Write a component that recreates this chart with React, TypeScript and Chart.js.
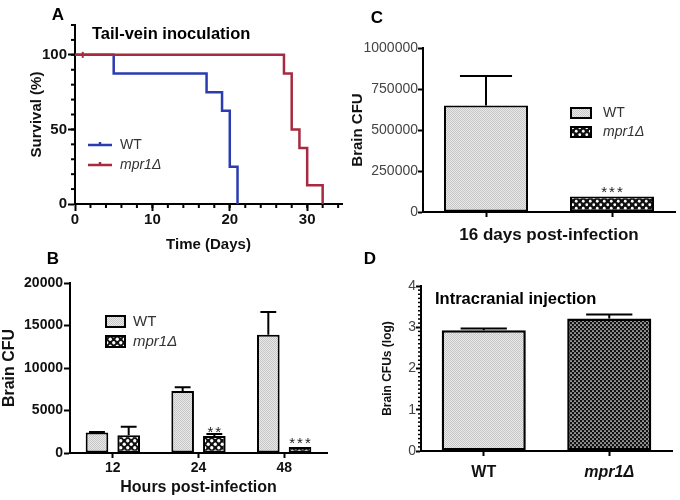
import React, { useEffect, useRef } from 'react';
import { Chart, registerables } from 'chart.js';

Chart.register(...registerables);

const FONT = '"Liberation Sans", Arial, Helvetica, sans-serif';
Chart.defaults.font.family = FONT;

// ---------- Panel A: survival ----------
const survivalWTDays = [0, 5, 17, 19, 20, 21];
const survivalWTPct = [100, 87.5, 75, 62.5, 25, 0];
const survivalMutDays = [0, 27, 28, 29, 30, 32];
const survivalMutPct = [100, 87.5, 50, 37.5, 12.5, 0];
const censoredMutDays = [1];
const censoredMutPct = [100];
const survivalXTicks = [0, 10, 20, 30];
const survivalYTicks = [0, 50, 100];

// ---------- Panel B: brain CFU over time ----------
const hoursCategories = ['12', '24', '48'];
const brainCfuWT = [2400, 7300, 13900];
const brainCfuWTErr = [60, 450, 2700];
const brainCfuMut = [2100, 2000, 700];
const brainCfuMutErr = [1000, 250, 0];
const starsB = ['', '**', '***'];
const ticksB = [0, 5000, 10000, 15000, 20000];

// ---------- Panel C: 16 days ----------
const genotypes = ['WT', 'mpr1Δ'];
const day16Cfu = [650000, 95000];
const day16Err = [180000, 0];
const starsC = ['', '***'];
const ticksC = [0, 250000, 500000, 750000, 1000000];

// ---------- Panel D: intracranial ----------
const intracranialLog = [2.93, 3.21];
const intracranialErr = [0.04, 0.1];
const ticksD = [0, 1, 2, 3, 4];

const BLUE = '#2a3cb0';
const RED = '#a82a40';

type Box = { cx: number; cy: number; w: number; h: number; L: number; R: number; T: number; B: number };

const boxA: Box = { cx: 0, cy: 0, w: 350, h: 254, L: 75, R: 342, T: 25, B: 204 };
const boxB: Box = { cx: 0, cy: 250, w: 340, h: 250, L: 70, R: 327, T: 283, B: 453 };
const boxC: Box = { cx: 340, cy: 0, w: 340, h: 250, L: 423, R: 675, T: 48, B: 212 };
const boxD: Box = { cx: 340, cy: 250, w: 340, h: 250, L: 421, R: 672, T: 286, B: 451 };

function makeStipple(ctx: CanvasRenderingContext2D) {
  const t = document.createElement('canvas');
  t.width = 2; t.height = 2;
  const c = t.getContext('2d')!;
  c.fillStyle = '#e9e9e9'; c.fillRect(0, 0, 2, 2);
  c.fillStyle = '#c6c6c6'; c.fillRect(0, 0, 1, 1); c.fillRect(1, 1, 1, 1);
  return ctx.createPattern(t, 'repeat');
}
function makeDots(ctx: CanvasRenderingContext2D, size: number, r: number) {
  const t = document.createElement('canvas');
  t.width = size; t.height = size;
  const c = t.getContext('2d')!;
  c.fillStyle = '#111'; c.fillRect(0, 0, size, size);
  c.fillStyle = '#fff';
  [[size / 4, size / 4], [(3 * size) / 4, (3 * size) / 4]].forEach(([x, y]) => {
    c.beginPath(); c.arc(x, y, r, 0, Math.PI * 2); c.fill();
  });
  return ctx.createPattern(t, 'repeat');
}

const layoutFor = (b: Box) => ({ padding: { left: 0, top: b.T - b.cy, right: b.cx + b.w - b.R, bottom: 0 } });
const gridCfg = (tl: number) => ({ display: true, drawOnChartArea: false, drawTicks: true, tickLength: tl, tickColor: '#000', tickWidth: 2, offset: false });
const borderCfg = { display: true, color: '#000', width: 2 };
const fixTicks = (vals: number[]) => (s: any) => { s.ticks = vals.map((v) => ({ value: v })); };

type TextItem = { t: string; x: number; y: number; font: string; align?: CanvasTextAlign; base?: CanvasTextBaseline; color?: string };
function textPlugin(b: Box, items: TextItem[]) {
  return {
    id: 'texts',
    afterDraw(chart: any) {
      const ctx = chart.ctx;
      ctx.save();
      items.forEach((it) => {
        ctx.font = it.font;
        ctx.fillStyle = it.color || '#000';
        ctx.textAlign = it.align || 'center';
        ctx.textBaseline = it.base || 'middle';
        ctx.fillText(it.t, it.x - b.cx, it.y - b.cy);
      });
      ctx.restore();
    },
  };
}
function minorPlugin(axis: 'x' | 'y', values: number[], len: number, width: number) {
  return {
    id: 'minor' + axis,
    afterDraw(chart: any) {
      const ctx = chart.ctx;
      const s = chart.scales[axis];
      const a = chart.chartArea;
      ctx.save();
      ctx.strokeStyle = '#000';
      ctx.lineWidth = width;
      values.forEach((v) => {
        const p = s.getPixelForValue(v);
        ctx.beginPath();
        if (axis === 'y') { ctx.moveTo(a.left - len, p); ctx.lineTo(a.left, p); }
        else { ctx.moveTo(p, a.bottom); ctx.lineTo(p, a.bottom + len); }
        ctx.stroke();
      });
      ctx.restore();
    },
  };
}
function errorPlugin(ds: number, values: number[], errs: number[], capFrac: number) {
  return {
    id: 'err' + ds,
    afterDatasetsDraw(chart: any) {
      const ctx = chart.ctx;
      const meta = chart.getDatasetMeta(ds);
      const ys = chart.scales.y;
      ctx.save();
      ctx.strokeStyle = '#000';
      ctx.lineWidth = 2;
      meta.data.forEach((bar: any, i: number) => {
        if (!errs[i]) return;
        const top = ys.getPixelForValue(values[i] + errs[i]);
        const cap = bar.width * capFrac;
        ctx.beginPath();
        ctx.moveTo(bar.x, bar.y);
        ctx.lineTo(bar.x, top);
        ctx.moveTo(bar.x - cap / 2, top);
        ctx.lineTo(bar.x + cap / 2, top);
        ctx.stroke();
      });
      ctx.restore();
    },
  };
}
function starsPlugin(ds: number, stars: string[], font: string) {
  return {
    id: 'stars' + ds,
    afterDatasetsDraw(chart: any) {
      const ctx = chart.ctx;
      const meta = chart.getDatasetMeta(ds);
      ctx.save();
      ctx.font = font;
      ctx.fillStyle = '#222';
      ctx.textAlign = 'center';
      ctx.textBaseline = 'alphabetic';
      (ctx as any).letterSpacing = '2px';
      meta.data.forEach((bar: any, i: number) => {
        if (stars[i]) ctx.fillText(stars[i], bar.x + 1, bar.y + 1);
      });
      ctx.restore();
    },
  };
}
type LegItem = { label: string; fill: any; italic?: boolean };
function boxLegendPlugin(b: Box, items: LegItem[], o: { x: number; y: number; bw: number; bh: number; gap: number; tx: number; size: number }) {
  return {
    id: 'boxLegend',
    afterDraw(chart: any) {
      const ctx = chart.ctx;
      ctx.save();
      items.forEach((it, i) => {
        const x = o.x - b.cx;
        const y = o.y + i * o.gap - b.cy;
        ctx.fillStyle = it.fill;
        ctx.fillRect(x, y, o.bw, o.bh);
        ctx.strokeStyle = '#000';
        ctx.lineWidth = 2;
        ctx.strokeRect(x + 1, y + 1, o.bw - 2, o.bh - 2);
        ctx.fillStyle = '#333';
        ctx.font = `${it.italic ? 'italic ' : ''}${o.size}px ${FONT}`;
        ctx.textAlign = 'left';
        ctx.textBaseline = 'middle';
        ctx.fillText(it.label, o.tx - b.cx, y + o.bh / 2);
      });
      ctx.restore();
    },
  };
}
function lineLegendPlugin(b: Box, items: { label: string; color: string; italic?: boolean }[], o: { x1: number; x2: number; y: number; gap: number; tx: number; size: number }) {
  return {
    id: 'lineLegend',
    afterDraw(chart: any) {
      const ctx = chart.ctx;
      ctx.save();
      items.forEach((it, i) => {
        const y = o.y + i * o.gap - b.cy;
        ctx.strokeStyle = it.color;
        ctx.lineWidth = 2.5;
        ctx.beginPath();
        ctx.moveTo(o.x1 - b.cx, y);
        ctx.lineTo(o.x2 - b.cx, y);
        const mx = (o.x1 + o.x2) / 2 - b.cx;
        ctx.moveTo(mx, y - 3);
        ctx.lineTo(mx, y);
        ctx.stroke();
        ctx.fillStyle = '#333';
        ctx.font = `${it.italic ? 'italic ' : ''}${o.size}px ${FONT}`;
        ctx.textAlign = 'left';
        ctx.textBaseline = 'middle';
        ctx.fillText(it.label, o.tx - b.cx, y);
      });
      ctx.restore();
    },
  };
}

const range = (from: number, to: number, step: number) => {
  const out: number[] = [];
  for (let v = from; v <= to + 1e-9; v += step) out.push(Math.round(v * 1000) / 1000);
  return out;
};

function configA(ctx: CanvasRenderingContext2D) {
  const b = boxA;
  return {
    type: 'line',
    data: {
      datasets: [
        { label: 'WT', data: survivalWTDays.map((d, i) => ({ x: d, y: survivalWTPct[i] })), borderColor: BLUE, borderWidth: 2.5, stepped: 'before', pointRadius: 0, fill: false, order: 1 },
        { label: 'mpr1Δ', data: survivalMutDays.map((d, i) => ({ x: d, y: survivalMutPct[i] })), borderColor: RED, borderWidth: 2.5, stepped: 'before', pointRadius: 0, fill: false, order: 0 },
        { label: 'mpr1Δ censored', data: censoredMutDays.map((d, i) => ({ x: d, y: censoredMutPct[i] })), showLine: false, pointStyle: 'line', rotation: 90, pointRadius: 3, borderColor: RED, borderWidth: 2, order: 0 },
      ],
    },
    options: {
      responsive: false, animation: false, events: [],
      layout: layoutFor(b),
      plugins: { legend: { display: false }, tooltip: { enabled: false } },
      scales: {
        x: {
          type: 'linear', min: 0, max: 34.5,
          afterBuildTicks: fixTicks(survivalXTicks),
          afterFit: (s: any) => { s.height = b.cy + b.h - b.B; },
          grid: gridCfg(7), border: borderCfg,
          ticks: { color: '#111', font: { size: 15, weight: 'bold' }, padding: 0, maxRotation: 0, callback: (v: any) => String(v) },
          title: { display: true, text: 'Time (Days)', color: '#111', font: { size: 15, weight: 'bold' }, padding: { top: 0, bottom: 0 } },
        },
        y: {
          type: 'linear', min: 0, max: 120,
          afterBuildTicks: fixTicks(survivalYTicks),
          afterFit: (s: any) => { s.width = b.L - b.cx; },
          grid: gridCfg(7), border: borderCfg,
          ticks: { color: '#111', font: { size: 15, weight: 'bold' }, padding: 1, callback: (v: any) => String(v) },
          title: { display: true, text: 'Survival (%)', color: '#111', font: { size: 15, weight: 'bold' }, padding: { top: 28, bottom: 0 } },
        },
      },
    },
    plugins: [
      minorPlugin('x', range(2, 34, 2), 4, 2),
      minorPlugin('y', range(10, 120, 10), 4, 2),
      lineLegendPlugin(b, [{ label: 'WT', color: BLUE }, { label: 'mpr1Δ', color: RED, italic: true }], { x1: 88, x2: 112, y: 145, gap: 20, tx: 120, size: 14 }),
      textPlugin(b, [
        { t: 'A', x: 58, y: 15, font: `bold 17px ${FONT}` },
        { t: 'Tail-vein inoculation', x: 92, y: 39, font: `bold 16.5px ${FONT}`, align: 'left', base: 'alphabetic' },
      ]),
    ],
  };
}

function configB(ctx: CanvasRenderingContext2D) {
  const b = boxB;
  const wt = makeStipple(ctx);
  const mut = makeDots(ctx, 7, 1.65);
  return {
    type: 'bar',
    data: {
      labels: hoursCategories,
      datasets: [
        { label: 'WT', data: brainCfuWT, backgroundColor: wt, borderColor: '#000', borderWidth: 2, borderSkipped: false, categoryPercentage: 0.74, barPercentage: 0.714 },
        { label: 'mpr1Δ', data: brainCfuMut, backgroundColor: mut, borderColor: '#000', borderWidth: 2, borderSkipped: false, categoryPercentage: 0.74, barPercentage: 0.714 },
      ],
    },
    options: {
      responsive: false, animation: false, events: [],
      layout: layoutFor(b),
      plugins: { legend: { display: false }, tooltip: { enabled: false } },
      scales: {
        x: {
          type: 'category', offset: true,
          afterFit: (s: any) => { s.height = b.cy + b.h - b.B; },
          grid: gridCfg(5), border: borderCfg,
          ticks: { color: '#111', font: { size: 14, weight: 'bold' }, padding: 2, maxRotation: 0, autoSkip: false },
          title: { display: true, text: 'Hours post-infection', color: '#111', font: { size: 16, weight: 'bold' }, padding: { top: 0, bottom: 3 } },
        },
        y: {
          type: 'linear', min: 0, max: 20000,
          afterBuildTicks: fixTicks(ticksB),
          afterFit: (s: any) => { s.width = b.L - b.cx; },
          grid: gridCfg(6), border: borderCfg,
          ticks: { color: '#111', font: { size: 14, weight: 'bold' }, padding: 1, callback: (v: any) => String(v) },
          title: { display: true, text: 'Brain CFU', color: '#111', font: { size: 16, weight: 'bold' }, padding: { top: 0, bottom: 0 } },
        },
      },
    },
    plugins: [
      errorPlugin(0, brainCfuWT, brainCfuWTErr, 0.7),
      errorPlugin(1, brainCfuMut, brainCfuMutErr, 0.7),
      starsPlugin(1, starsB, `15px ${FONT}`),
      boxLegendPlugin(b, [{ label: 'WT', fill: wt }, { label: 'mpr1Δ', fill: mut, italic: true }], { x: 105, y: 315, bw: 21, bh: 13, gap: 20, tx: 133, size: 15 }),
      textPlugin(b, [{ t: 'B', x: 53, y: 259, font: `bold 17px ${FONT}` }]),
    ],
  };
}

function configC(ctx: CanvasRenderingContext2D) {
  const b = boxC;
  const wt = makeStipple(ctx);
  const mut = makeDots(ctx, 7, 1.4);
  return {
    type: 'bar',
    data: {
      labels: genotypes,
      datasets: [
        { label: 'Brain CFU', data: day16Cfu, backgroundColor: [wt, mut], borderColor: '#000', borderWidth: 2, borderSkipped: false, categoryPercentage: 1, barPercentage: 0.667 },
      ],
    },
    options: {
      responsive: false, animation: false, events: [],
      layout: layoutFor(b),
      plugins: { legend: { display: false }, tooltip: { enabled: false } },
      scales: {
        x: {
          type: 'category', offset: true,
          afterFit: (s: any) => { s.height = b.cy + b.h - b.B; },
          grid: gridCfg(5), border: borderCfg,
          ticks: { display: false },
          title: { display: true, text: '16 days post-infection', color: '#111', font: { size: 17, weight: 'bold' }, padding: { top: 0, bottom: 4 } },
        },
        y: {
          type: 'linear', min: 0, max: 1000000,
          afterBuildTicks: fixTicks(ticksC),
          afterFit: (s: any) => { s.width = b.L - b.cx; },
          grid: gridCfg(5), border: borderCfg,
          ticks: { color: '#444', font: { size: 14 }, padding: 0, callback: (v: any) => String(v) },
          title: { display: true, text: 'Brain CFU', color: '#111', font: { size: 15, weight: 'bold' }, padding: { top: 9, bottom: 0 } },
        },
      },
    },
    plugins: [
      errorPlugin(0, day16Cfu, day16Err, 0.62),
      starsPlugin(0, starsC, `15px ${FONT}`),
      boxLegendPlugin(b, [{ label: 'WT', fill: wt }, { label: 'mpr1Δ', fill: mut, italic: true }], { x: 570, y: 107, bw: 22, bh: 12, gap: 19, tx: 603, size: 14 }),
      textPlugin(b, [{ t: 'C', x: 377, y: 18, font: `bold 17px ${FONT}` }]),
    ],
  };
}

function configD(ctx: CanvasRenderingContext2D) {
  const b = boxD;
  const wt = makeStipple(ctx);
  const mut = makeDots(ctx, 4, 0.85);
  return {
    type: 'bar',
    data: {
      labels: genotypes,
      datasets: [
        { label: 'Brain CFUs (log)', data: intracranialLog, backgroundColor: [wt, mut], borderColor: '#000', borderWidth: 2.5, borderSkipped: false, categoryPercentage: 1, barPercentage: 0.67 },
      ],
    },
    options: {
      responsive: false, animation: false, events: [],
      layout: layoutFor(b),
      plugins: { legend: { display: false }, tooltip: { enabled: false } },
      scales: {
        x: {
          type: 'category', offset: true,
          afterFit: (s: any) => { s.height = b.cy + b.h - b.B; },
          grid: gridCfg(5), border: borderCfg,
          ticks: {
            color: '#111', padding: 7, maxRotation: 0, autoSkip: false,
            font: (c: any) => ({ size: 16, weight: 'bold', style: c.index === 1 ? 'italic' : 'normal' }),
          },
        },
        y: {
          type: 'linear', min: 0, max: 4,
          afterBuildTicks: fixTicks(ticksD),
          afterFit: (s: any) => { s.width = b.L - b.cx; },
          grid: gridCfg(5), border: borderCfg,
          ticks: { color: '#444', font: { size: 14 }, padding: 0, callback: (v: any) => String(v) },
          title: { display: true, text: 'Brain CFUs (log)', color: '#111', font: { size: 12, weight: 'bold' }, padding: { top: 40, bottom: 0 } },
        },
      },
    },
    plugins: [
      minorPlugin('y', range(0.1, 3.9, 0.1).filter((v) => Math.abs(v - Math.round(v)) > 1e-6), 3, 1.5),
      errorPlugin(0, intracranialLog, intracranialErr, 0.55),
      textPlugin(b, [
        { t: 'D', x: 370, y: 259, font: `bold 17px ${FONT}` },
        { t: 'Intracranial injection', x: 435, y: 304, font: `bold 16.5px ${FONT}`, align: 'left', base: 'alphabetic' },
      ]),
    ],
  };
}

function Panel({ box, make }: { box: Box; make: (ctx: CanvasRenderingContext2D) => any }) {
  const ref = useRef<HTMLCanvasElement>(null);
  useEffect(() => {
    const canvas = ref.current!;
    const ctx = canvas.getContext('2d')!;
    const chart = new Chart(canvas, make(ctx));
    return () => chart.destroy();
  }, []);
  return (
    <canvas
      ref={ref}
      width={box.w}
      height={box.h}
      style={{ position: 'absolute', left: box.cx, top: box.cy, width: box.w, height: box.h }}
    />
  );
}

export default function App() {
  return (
    <div style={{ position: 'absolute', left: 0, top: 0, width: 680, height: 500, background: '#fff', overflow: 'hidden' }}>
      <Panel box={boxA} make={configA} />
      <Panel box={boxB} make={configB} />
      <Panel box={boxC} make={configC} />
      <Panel box={boxD} make={configD} />
    </div>
  );
}
